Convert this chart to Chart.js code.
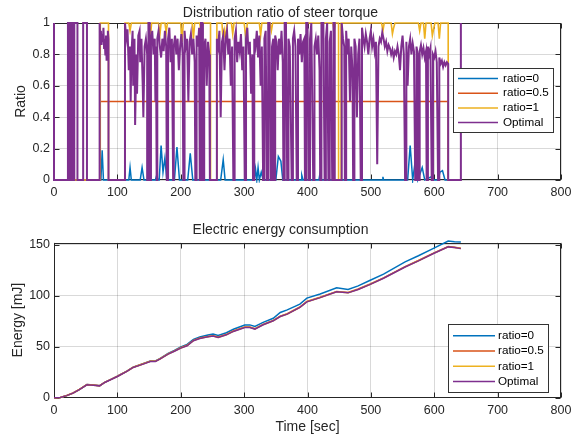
<!DOCTYPE html>
<html>
<head>
<meta charset="utf-8">
<script src="https://cdn.jsdelivr.net/npm/chart.js@4.4.1/dist/chart.umd.min.js"></script>
<style>
  body { margin: 0; background: #fff; width: 578px; height: 436px; overflow: hidden; position: relative; }
  #ratioWrap { position: absolute; left: 0; top: 0; width: 578px; height: 205px; }
  #energyWrap { position: absolute; left: 0; top: 205px; width: 578px; height: 231px; }
</style>
</head>
<body>
<div id="ratioWrap"><canvas id="ratioChart"></canvas></div>
<div id="energyWrap"><canvas id="energyChart"></canvas></div>
<script>
// series names
const seriesNames = ["ratio=0", "ratio=0.5", "ratio=1", "Optimal"];
const seriesColors = ["#0072BD", "#D95319", "#EDB120", "#7E2F8E"];

// top plot, [time, ratio]
const ratioZero = [[0,0],[74,0],[76,0.19],[78,0],[118,0],[120,0.08],[122,0],[136,0],[139,0.08],[142,0],[160,0],[162,0.03],[164,0],
  [166,0],[169,0.22],[172,0.05],[175,0.14],[178,0],[190,0],[194,0.21],[198,0],[211,0],[215,0.17],[219,0],[263,0],[267,0.13],[270,0],
  [316,0],[318,0.07],[320,0],[322,0.08],[324,0],[327,0.05],[330,0],[350,0],[354,0.15],[358,0.12],[361,0],[390,0],[391,0.03],[393,0],
  [418,0],[420,0.05],[422,0],[518,0],[519,0.02],[520,0],[558,0],[562,0.22],[566,0],[570,0.12],[574,0],[581,0.08],[585,0],
  [595,0.02],[600,0],[606,0],[609,0.05],[613,0.06],[617,0],[642,0]];
const ratioHalf = [[0,0],[73,0],[73,0.5],[622,0.5],[622,0],[642,0]];
const ratioOne = [[0,0],[73,0],[73,1],[86,1],[86,0],[112,0],[112,1],[118,1],[120,0.95],[122,1],[150,1],[152,0.9],[154,1],
  [165,1],[167,0.92],[169,1],[175,1],[177,0.94],[179,1],[200,1],[202,0.88],[204,1],[218,1],[220,0.9],[222,1],[230,1],[232,0.93],
  [234,1],[247,1],[247,0],[257,0],[257,1],[265,1],[267,0.88],[269,0.95],[271,0.9],[273,1],[280,1],[282,0.93],[284,1],[300,1],
  [303,0.9],[305,1],[324,1],[326,0.92],[328,1],[341,1],[343,0.95],[345,1],[440,1],[442,0.95],[444,1],[449,1],[449,0],[453,0],
  [453,1],[517,1],[519,0.95],[521,1],[532,1],[534,0.93],[536,0.97],[538,1],[575,1],[577,0.95],[579,1],[583,1],[585,0.9],[587,1],
  [595,1],[597,0.92],[599,0.96],[601,1],[606,1],[608,0.9],[610,1],[622,1],[622,0],[642,0]];
const ratioOptimal = [[0,1],[0,0],[22,0],[22,1],[25,1],[25,0],[27,0],[27,1],[30,1],[30,0],[32,0],[32,1],[37,1],[37,0],[46,0],[46,1],
  [52,1],[52,0],[72,0],[72,1],[73,0.9],[74,0.95],[75,0.86],[76,0.93],[77,0.88],[78,0.97],[79,0.84],[80,0.9],[81,0.8],[82,0.92],
  [83,0.76],[84,0.87],[85,0.95],[86,0.9],[86,0],[112,0],[112,1],[114,0.9],[116,0.96],[118,0.7],[120,0.85],[121,0.5],[122,0.78],
  [124,0.95],[125,0.6],[127,0.9],[128,0.35],[130,0.8],[131,0.55],[133,0.92],[135,0.95],[136,0.75],[138,0.9],[140,0.6],[141,0.4],
  [143,0.85],[145,0.9],[147,0.8],[147,0],[149,0],[149,1],[151,1],[151,0],[153,0],[153,0.88],[155,0.95],[157,0.8],[159,0.9],
  [160,0.5],[161,0.85],[162,0],[163,0],[163,0.9],[165,0.95],[167,0.85],[169,0.78],[171,0.9],[173,0.82],[175,0.95],[177,0.85],
  [178,0],[180,0],[180,0.9],[182,0.97],[184,0.75],[186,0.9],[188,0],[189,0],[189,0.85],[191,0.92],[193,0.8],[195,0.9],[197,0.7],
  [199,0.85],[201,0.93],[203,0.8],[204,0],[206,0],[206,0.95],[208,0.85],[210,0.9],[212,0.5],[214,0.88],[216,0.93],[218,0.8],
  [220,0.9],[222,0.75],[223,0],[225,0],[225,0.92],[227,0.85],[229,0.97],[230,0],[232,0],[232,1],[234,1],[235,0],[237,0],
  [237,0.85],[239,0.9],[241,0.6],[243,0.88],[245,0.8],[246,0],[257,0],[257,0.9],[259,0.85],[261,0.95],[263,0.4],[265,0.88],
  [267,0.92],[269,0.7],[271,0.9],[273,0.95],[275,0.8],[277,0.9],[279,0.6],[281,0.85],[283,0],[285,0],[285,0.9],[287,0.95],
  [289,0.75],[291,0.88],[293,0.82],[295,0.93],[297,0.7],[299,0.85],[301,0],[303,0],[303,0.9],[305,0.97],[307,0.8],[309,0.88],
  [311,0.55],[313,0.8],[314,0],[316,0],[316,0.9],[318,0.85],[320,0.95],[322,0.78],[324,0.92],[326,0.6],[328,0.85],[330,0],
  [332,0],[332,0.9],[334,0.95],[336,0],[338,0],[338,1],[340,1],[342,0],[344,0],[344,0.85],[346,0.9],[346,0],[349,0],[349,0.92],
  [351,0.88],[353,0.7],[355,0.9],[357,0.8],[359,0.95],[361,0.75],[362,0],[364,0],[364,1],[366,1],[368,0],[370,0],[370,0.9],
  [372,0.85],[373,0.6],[375,0],[377,0],[377,0.9],[379,0.95],[381,0.85],[383,0],[385,0],[385,0.9],[387,0.8],[389,0.93],[391,0.75],
  [393,0.88],[395,0.9],[396,0],[398,0],[398,1],[400,1],[402,0],[404,0],[404,0.9],[406,1],[409,0],[411,0],[411,0.85],[413,0.9],
  [415,0.8],[417,0.92],[419,0.7],[420,0],[422,0],[422,1],[425,1],[427,0],[429,0],[429,0.9],[431,1],[433,0],[435,0],[435,0.88],
  [437,0.95],[439,0],[441,0],[441,1],[443,1],[443,0],[454,0],[454,1],[456,0.9],[458,0.85],[459,0],[461,0],[461,0.95],[463,0.8],
  [465,0.9],[467,0.5],[469,0.85],[471,0.7],[472,0],[474,0],[474,0.9],[476,0.85],[478,0.4],[480,0.8],[482,0.9],[484,0],[486,0],
  [486,0.97],[488,0.9],[490,0.85],[492,0.93],[494,0.88],[496,0.8],[498,0.9],[500,0.95],[502,0.85],[504,0.9],[506,0.82],
  [508,0.88],[510,0.1],[512,0.85],[514,0.9],[516,0.88],[518,0.94],[520,0.9],[522,0.85],[524,0.88],[526,0.82],[528,0.86],
  [530,0.84],[532,0.8],[534,0.83],[536,0.78],[538,0.82],[540,0.8],[542,0.85],[544,0.8],[546,0.7],[548,0.85],[550,0.92],
  [552,0.8],[554,0],[556,0],[556,0.88],[558,0.6],[560,0.85],[562,0.9],[564,0.8],[566,0.87],[568,0.82],[570,0],[572,0],
  [572,0.85],[574,0.8],[575,0],[577,0],[577,0.82],[579,0.86],[581,0.8],[583,0.84],[585,0.78],[587,0.82],[588,0],[590,0],
  [590,0.85],[592,0.8],[594,0.84],[596,0],[598,0],[598,0.8],[600,0.78],[602,0.82],[604,0.75],[606,0],[608,0],[608,0.78],
  [610,0.74],[612,0.76],[614,0.72],[616,0.75],[618,0.73],[620,0.75],[622,0.74],[622,0],[642,0],[642,1]];

// bottom plot
const energyTime = [0,10,20,30,40,52,62,72,80,90,100,115,125,136,152,160,167,180,190,200,210,220,230,243,251,
  259,272,283,301,309,317,330,346,357,368,388,399,420,446,464,480,499,520,554,575,598,622,632,642];
const energyZero = [0,0.3,2,4.5,8,12.8,12.4,11.8,15.1,18,21,26,30,32.3,36,36,38.3,43.3,46.3,49.8,52.2,57.2,59.5,61.5,62.3,
  61,63.6,67,71.1,71.3,69.8,73.8,77.8,83.5,86,91.6,97.5,101.5,107.6,106,109.5,115,121,133,139,146,153.5,152.8,152.5];
const energyHalf = [0,0.3,2.1,4.6,8.1,12.8,12.4,11.8,15.1,18,21,26,29.9,32.2,35.8,35.8,38.1,43,45.8,49,51.3,56.2,58.4,60,60.7,
  59.4,62,65.3,69.2,69.2,67.6,71.8,75.7,79.9,82.2,88.8,94.3,98.4,104.1,103.1,106.4,111.4,117.4,128.4,134.4,141.4,148,147.4,146.4];
const energyOne = [0,0.3,2,4.5,8,12.7,12.3,11.7,15,17.9,20.9,25.8,29.7,32,35.6,35.6,37.9,42.8,45.6,48.7,51,55.9,58.1,59.7,60.4,
  59.1,61.7,65,68.9,68.9,67.3,71.5,75.4,79.6,81.9,88.5,94,98.1,103.8,102.8,106.1,111.1,117.1,128.1,134.1,141.1,147.8,147.1,146.1];
const energyOptimal = [0,0.3,2,4.5,8,12.6,12.2,11.6,14.9,17.8,20.8,25.7,29.6,31.9,35.5,35.5,37.8,42.7,45.5,48.6,50.9,55.8,58,59.6,60.3,
  59,61.6,64.9,68.8,68.8,67.2,71.4,75.3,79.5,81.8,88.4,93.9,98,103.7,102.7,106,111,117,128,134,141,147.7,147,146];

const xTicks = [0, 100, 200, 300, 400, 500, 600, 700, 800];
const ratioTicks = [0, 0.2, 0.4, 0.6, 0.8, 1];
const energyTicks = [0, 50, 100, 150];

const FONT = "'Liberation Sans', Arial, Helvetica, sans-serif";
const TXT = "#262626";

// box, inward ticks and legend like matlab
const matlabBox = {
  id: "matlabBox",
  beforeDatasetsDraw(chart) {
    const { ctx, chartArea: a, scales } = chart;
    const l = Math.round(a.left) + 0.5, r = Math.round(a.right) - 0.5;
    const t = Math.round(a.top) + 0.5, b = Math.round(a.bottom) - 0.5;
    ctx.save();
    ctx.strokeStyle = TXT;
    ctx.lineWidth = 1;
    ctx.strokeRect(l, t, r - l, b - t);
    ctx.beginPath();
    scales.x.ticks.forEach((tk) => {
      const px = Math.round(scales.x.getPixelForValue(tk.value)) + 0.5;
      ctx.moveTo(px, b); ctx.lineTo(px, b - 5);
      ctx.moveTo(px, t); ctx.lineTo(px, t + 5);
    });
    scales.y.ticks.forEach((tk) => {
      const py = Math.round(scales.y.getPixelForValue(tk.value)) + 0.5;
      ctx.moveTo(l, py); ctx.lineTo(l + 5, py);
      ctx.moveTo(r, py); ctx.lineTo(r - 5, py);
    });
    ctx.stroke();
    ctx.restore();
  },
  afterDatasetsDraw(chart, args, opts) {
    const lg = opts.legend;
    if (!lg) return;
    const { ctx } = chart;
    ctx.save();
    ctx.fillStyle = "#fff";
    ctx.fillRect(lg.x, lg.y, lg.w, lg.h);
    ctx.strokeStyle = "#333";
    ctx.lineWidth = 1;
    ctx.strokeRect(lg.x + 0.5, lg.y + 0.5, lg.w, lg.h);
    ctx.font = "11.7px " + FONT;
    ctx.textBaseline = "middle";
    ctx.fillStyle = "#000";
    seriesNames.forEach((name, i) => {
      const y = lg.y + lg.first + i * lg.step;
      ctx.strokeStyle = seriesColors[i];
      ctx.lineWidth = 1.5;
      ctx.beginPath();
      ctx.moveTo(lg.x + 5, y);
      ctx.lineTo(lg.x + 5 + lg.line, y);
      ctx.stroke();
      ctx.fillText(name, lg.x + lg.text, y);
    });
    ctx.restore();
  }
};

const toXY = (pts) => pts.map((p) => ({ x: p[0], y: p[1] }));
const onTime = (vals) => energyTime.map((t, i) => ({ x: t, y: vals[i] }));

function lineSet(label, data, color, order, width) {
  return { label: label, data: data, borderColor: color, borderWidth: width || 1.5, pointRadius: 0,
    tension: 0, fill: false, order: order, clip: 3 };
}

function axes(yMin, yMax, yTicks, yTitle, yTitlePad, xHeight, xTitle) {
  return {
    x: {
      type: "linear", min: 0, max: 800,
      afterBuildTicks: (s) => { s.ticks = xTicks.map((v) => ({ value: v })); },
      afterFit: (s) => { s.height = xHeight; },
      grid: { color: "rgba(0,0,0,0.15)", drawTicks: false },
      border: { display: false },
      ticks: { padding: 5, color: TXT, font: { family: FONT, size: 12.5 }, maxRotation: 0, callback: (v) => String(v) },
      title: { display: !!xTitle, text: xTitle, color: TXT, font: { family: FONT, size: 14 }, padding: { top: 0, bottom: 0 } }
    },
    y: {
      type: "linear", min: yMin, max: yMax,
      afterBuildTicks: (s) => { s.ticks = yTicks.map((v) => ({ value: v })); },
      afterFit: (s) => { s.width = 54; },
      grid: { color: "rgba(0,0,0,0.15)", drawTicks: false },
      border: { display: false },
      ticks: { padding: 4, color: TXT, font: { family: FONT, size: 12.5 }, callback: (v) => String(v) },
      title: { display: true, text: yTitle, color: TXT, font: { family: FONT, size: 14 }, padding: { top: yTitlePad, bottom: 0 } }
    }
  };
}

new Chart(document.getElementById("ratioChart"), {
  type: "line",
  data: {
    datasets: [
      lineSet(seriesNames[0], toXY(ratioZero), seriesColors[0], 4, 1.5),
      lineSet(seriesNames[1], toXY(ratioHalf), seriesColors[1], 3, 1.5),
      lineSet(seriesNames[2], toXY(ratioOne), seriesColors[2], 2, 1.6),
      lineSet(seriesNames[3], toXY(ratioOptimal), seriesColors[3], 1, 2)
    ]
  },
  options: {
    responsive: true, maintainAspectRatio: false, animation: false,
    layout: { padding: { left: 0, right: 17, top: 0, bottom: 0 } },
    scales: axes(0, 1, ratioTicks, "Ratio", 12.3, 25, ""),
    plugins: {
      legend: { display: false },
      tooltip: { enabled: false },
      title: { display: true, text: "Distribution ratio of steer torque", color: TXT,
        font: { family: FONT, size: 14, weight: "normal" }, padding: { top: 4.9, bottom: 1.3 } },
      matlabBox: { legend: { x: 453, y: 68, w: 100, h: 64, first: 10.5, step: 14.7, line: 40, text: 50 } }
    }
  },
  plugins: [matlabBox]
});

const energySets = [
  lineSet(seriesNames[0], onTime(energyZero), seriesColors[0], 4),
  lineSet(seriesNames[1], onTime(energyHalf), seriesColors[1], 3),
  lineSet(seriesNames[2], onTime(energyOne), seriesColors[2], 2),
  lineSet(seriesNames[3], onTime(energyOptimal), seriesColors[3], 1)
];
energySets[0].clip = false;

new Chart(document.getElementById("energyChart"), {
  type: "line",
  data: { datasets: energySets },
  options: {
    responsive: true, maintainAspectRatio: false, animation: false,
    layout: { padding: { left: 0, right: 17, top: 0, bottom: 0 } },
    scales: axes(0, 152, energyTicks, "Energy [mJ]", 9.9, 38.3, "Time [sec]"),
    plugins: {
      legend: { display: false },
      tooltip: { enabled: false },
      title: { display: true, text: "Electric energy consumption", color: TXT,
        font: { family: FONT, size: 14, weight: "normal" }, padding: { top: 16.6, bottom: 4.1 } },
      matlabBox: { legend: { x: 448, y: 119, w: 100, h: 68, first: 11.7, step: 15.3, line: 42, text: 50 } }
    }
  },
  plugins: [matlabBox]
});
</script>
</body>
</html>
